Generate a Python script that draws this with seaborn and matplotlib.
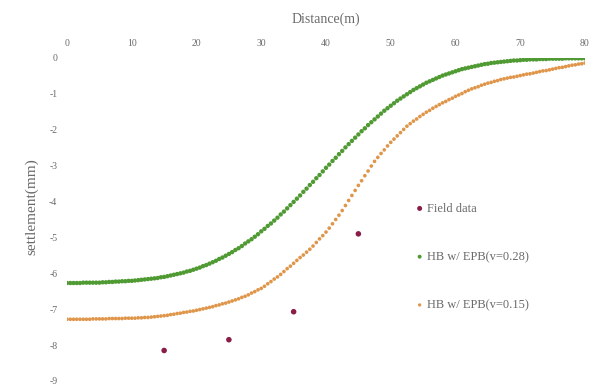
import matplotlib
matplotlib.use("Agg")
import matplotlib.pyplot as plt
import numpy as np
import pandas as pd
import seaborn as sns

# Distance stations along the alignment (m), every 0.5 m
distance = np.arange(0, 80.5, 0.5)

# Computed settlement (mm), HB w/ EPB, v = 0.28
settle_v028 = [
    -6.27, -6.27, -6.27, -6.27, -6.27, -6.26, -6.26, -6.26, -6.26, -6.26,
    -6.26, -6.25, -6.25, -6.24, -6.24, -6.23, -6.23, -6.22, -6.22, -6.21,
    -6.21, -6.20, -6.19, -6.18, -6.17, -6.16, -6.15, -6.14, -6.13, -6.11,
    -6.10, -6.08, -6.06, -6.04, -6.02, -6.00, -5.98, -5.95, -5.93, -5.90,
    -5.87, -5.84, -5.80, -5.77, -5.73, -5.69, -5.65, -5.60, -5.56, -5.51,
    -5.46, -5.41, -5.35, -5.30, -5.24, -5.17, -5.11, -5.05, -4.98, -4.91,
    -4.83, -4.76, -4.68, -4.61, -4.53, -4.45, -4.36, -4.28, -4.19, -4.10,
    -4.01, -3.92, -3.83, -3.73, -3.64, -3.54, -3.45, -3.35, -3.26, -3.16,
    -3.06, -2.97, -2.87, -2.78, -2.68, -2.59, -2.49, -2.40, -2.31, -2.22,
    -2.13, -2.04, -1.96, -1.87, -1.79, -1.71, -1.63, -1.55, -1.47, -1.40,
    -1.33, -1.26, -1.19, -1.13, -1.07, -1.01, -0.95, -0.89, -0.84, -0.79,
    -0.74, -0.69, -0.65, -0.61, -0.57, -0.53, -0.49, -0.46, -0.43, -0.40,
    -0.37, -0.34, -0.31, -0.29, -0.27, -0.25, -0.23, -0.21, -0.19, -0.17,
    -0.16, -0.14, -0.13, -0.12, -0.11, -0.10, -0.09, -0.08, -0.07, -0.07,
    -0.06, -0.05, -0.05, -0.04, -0.04, -0.04, -0.03, -0.03, -0.03, -0.02,
    -0.02, -0.02, -0.02, -0.02, -0.01, -0.01, -0.01, -0.01, -0.01, -0.01,
    -0.01,
]

# Computed settlement (mm), HB w/ EPB, v = 0.15
settle_v015 = [
    -7.28, -7.28, -7.28, -7.28, -7.28, -7.28, -7.28, -7.28, -7.27, -7.27,
    -7.27, -7.27, -7.27, -7.26, -7.26, -7.26, -7.26, -7.26, -7.25, -7.25,
    -7.25, -7.25, -7.24, -7.24, -7.23, -7.23, -7.22, -7.21, -7.20, -7.19,
    -7.18, -7.17, -7.15, -7.14, -7.12, -7.11, -7.09, -7.08, -7.06, -7.05,
    -7.03, -7.01, -6.99, -6.97, -6.95, -6.93, -6.90, -6.88, -6.85, -6.83,
    -6.80, -6.77, -6.74, -6.71, -6.67, -6.64, -6.60, -6.55, -6.51, -6.46,
    -6.42, -6.36, -6.29, -6.23, -6.16, -6.10, -6.03, -5.95, -5.87, -5.80,
    -5.72, -5.64, -5.56, -5.49, -5.41, -5.33, -5.24, -5.14, -5.04, -4.95,
    -4.85, -4.74, -4.62, -4.50, -4.38, -4.25, -4.11, -3.97, -3.83, -3.69,
    -3.55, -3.42, -3.28, -3.15, -3.01, -2.88, -2.77, -2.66, -2.56, -2.45,
    -2.35, -2.26, -2.17, -2.08, -1.99, -1.90, -1.83, -1.76, -1.70, -1.63,
    -1.57, -1.51, -1.46, -1.40, -1.35, -1.30, -1.25, -1.21, -1.16, -1.12,
    -1.07, -1.03, -0.99, -0.94, -0.90, -0.86, -0.83, -0.80, -0.76, -0.73,
    -0.70, -0.68, -0.65, -0.63, -0.60, -0.58, -0.56, -0.54, -0.53, -0.51,
    -0.49, -0.47, -0.45, -0.44, -0.42, -0.40, -0.38, -0.36, -0.35, -0.33,
    -0.31, -0.29, -0.27, -0.26, -0.24, -0.22, -0.20, -0.19, -0.17, -0.16,
    -0.14,
]

# Measured settlement (mm)
field_x = [15, 25, 35, 45]
field_y = [-8.15, -7.85, -7.07, -4.90]

series_names = ["Field data", "HB w/ EPB(v=0.28)", "HB w/ EPB(v=0.15)"]
x_ticks = [0, 10, 20, 30, 40, 50, 60, 70, 80]
y_ticks = [0, -1, -2, -3, -4, -5, -6, -7, -8, -9]

sns.set_theme(style="white")
plt.rcParams["font.family"] = ["Liberation Serif", "DejaVu Serif"]
plt.rcParams["axes.unicode_minus"] = False

text_grey = "#6a6a6a"
colors = {
    series_names[0]: "#8a1d48",
    series_names[1]: "#4f9a32",
    series_names[2]: "#e0964a",
}

fig = plt.figure(figsize=(5.9, 3.9), dpi=100)
ax = fig.add_axes([0.1136, 0.0231, 0.8779, 0.8282])

df_field = pd.DataFrame({"x": field_x, "y": field_y, "series": series_names[0]})
df_028 = pd.DataFrame({"x": distance, "y": settle_v028, "series": series_names[1]})
df_015 = pd.DataFrame({"x": distance, "y": settle_v015, "series": series_names[2]})

sns.scatterplot(data=df_field, x="x", y="y", ax=ax, color=colors[series_names[0]],
                s=16, edgecolor="none", label=series_names[0], zorder=3)
sns.scatterplot(data=df_028, x="x", y="y", ax=ax, color=colors[series_names[1]],
                s=10, edgecolor="none", label=series_names[1], zorder=2)
sns.scatterplot(data=df_015, x="x", y="y", ax=ax, color=colors[series_names[2]],
                s=7, edgecolor="none", label=series_names[2], zorder=2)

ax.set_xlim(0, 80)
ax.set_ylim(-9, 0)
ax.xaxis.tick_top()
ax.xaxis.set_label_position("top")
ax.set_xticks(x_ticks)
ax.set_yticks(y_ticks)
ax.set_xticklabels([str(v) for v in x_ticks])
ax.set_yticklabels([str(v) for v in y_ticks])
ax.tick_params(axis="both", length=0, labelsize=7, colors=text_grey, pad=7)

ax.set_xlabel("Distance(m)", fontsize=10, color=text_grey, labelpad=12)
ax.set_ylabel("settlement(mm)", fontsize=11, color=text_grey)
ax.yaxis.set_label_coords(-0.055, 0.54)

for side in ["top", "bottom", "left", "right"]:
    ax.spines[side].set_visible(False)

leg = ax.legend(loc="center left", bbox_to_anchor=(0.647, 0.384), frameon=False,
                fontsize=9, labelspacing=2.9, handletextpad=0.1,
                handlelength=1.0, markerscale=0.9)
for t in leg.get_texts():
    t.set_color(text_grey)

fig.savefig("out.png", dpi=100)
